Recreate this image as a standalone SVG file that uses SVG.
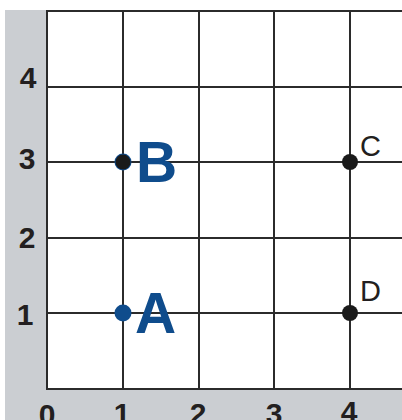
<svg xmlns="http://www.w3.org/2000/svg" width="402" height="420" viewBox="0 0 402 420">
<style>
.grid line{stroke:#2b2b2b;stroke-width:2}
.ax{font-family:"Liberation Sans",Arial,sans-serif;font-weight:bold;font-size:30px;fill:#231f20;text-anchor:middle}
.big{font-family:"Liberation Sans",Arial,sans-serif;font-weight:bold;font-size:57px;fill:#0f4c8c}
.sm{font-family:"Liberation Sans",Arial,sans-serif;font-size:29px;fill:#231f20}
.dot{fill:#1a1a1a}
</style>
<rect width="402" height="420" fill="#ffffff"/>
<rect id="axis-bg" x="5" y="10" width="397" height="410" fill="#cbced2"/>
<rect id="plot" x="47" y="11" width="355" height="378" fill="#ffffff"/>
<g id="grid" class="grid">
<line x1="47" y1="11" x2="402" y2="11"/>
<line x1="47" y1="87" x2="402" y2="87"/>
<line x1="47" y1="162" x2="402" y2="162"/>
<line x1="47" y1="238" x2="402" y2="238"/>
<line x1="47" y1="313" x2="402" y2="313"/>
<line x1="46" y1="389" x2="402" y2="389"/>
<line x1="47" y1="10" x2="47" y2="390"/>
<line x1="123" y1="11" x2="123" y2="389"/>
<line x1="199" y1="11" x2="199" y2="389"/>
<line x1="274" y1="11" x2="274" y2="389"/>
<line x1="350" y1="11" x2="350" y2="389"/>
</g>
<g id="y-axis" class="ax">
<text x="28" y="88">4</text>
<text x="27" y="169">3</text>
<text x="27" y="248">2</text>
<text x="25" y="325">1</text>
</g>
<g id="x-axis" class="ax">
<text x="47" y="425">0</text>
<text x="122" y="424">1</text>
<text x="198" y="424">2</text>
<text x="274" y="424">3</text>
<text x="349" y="422">4</text>
</g>
<g id="point-A">
<circle cx="123" cy="313" r="8.5" fill="#0f4c8c"/>
<text class="big" x="135" y="333">A</text>
</g>
<g id="point-B">
<circle cx="123" cy="162" r="8.5" fill="#0f4c8c"/>
<circle cx="123" cy="162" r="7.5" class="dot"/>
<text class="big" x="136" y="182">B</text>
</g>
<g id="point-C">
<circle cx="350" cy="162" r="8" class="dot"/>
<text class="sm" x="360" y="156">C</text>
</g>
<g id="point-D">
<circle cx="350" cy="313" r="8" class="dot"/>
<text class="sm" x="360" y="301">D</text>
</g>
</svg>
